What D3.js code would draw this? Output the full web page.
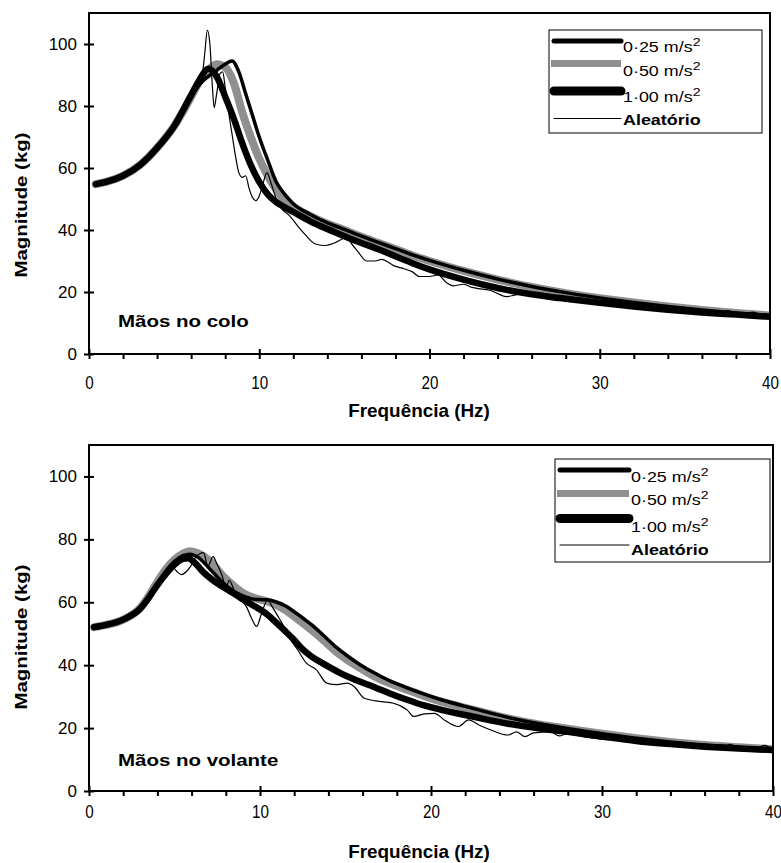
<!DOCTYPE html>
<html>
<head>
<meta charset="utf-8">
<script src="https://cdn.jsdelivr.net/npm/d3@7"></script>
<style>
body { margin: 0; background: #fff; }
svg { display: block; }
</style>
</head>
<body>
<script>
// values: [frequency Hz, magnitude kg]

// ---- Mãos no colo
var colo025 = [[0.4,54.8],[1,55.5],[2,57.5],[3,61],[4,66.5],[5,73.5],[6,83],
    [6.5,87],[7,89.5],[7.5,91.5],[8,93.5],[8.4,94.5],[8.8,91],[9.2,84],
    [9.6,77],[10,70],[10.5,62.5],[11,55.5],[11.5,51.5],[12,48.5],[13,45],
    [14,42.3],[15,40.2],[16,38],[17,36],[18,34],[19,32],[20,30.2],[22,27],
    [24,24.2],[26,21.8],[28,19.8],[30,18.1],[32,16.6],[34,15.3],[36,14.2],
    [38,13.2],[40,12.4]];
var colo050 = [[0.4,54.8],[1,55.5],[2,57.5],[3,61],[4,66.5],[5,73.5],[6,83],
    [6.5,88],[7,91.5],[7.5,93.5],[8,92.5],[8.5,87.5],[9,78],[9.5,70],[10,63],
    [10.5,57.5],[11,53],[11.5,49.5],[12,47.5],[13,44.5],[14,42],[15,40],
    [16,37.8],[17,35.8],[18,33.8],[19,31.8],[20,30],[22,26.8],[24,24],
    [26,21.6],[28,19.6],[30,18],[32,16.6],[34,15.3],[36,14.2],[38,13.2],
    [40,12.4]];
var colo100 = [[0.4,54.8],[1,55.5],[2,57.5],[3,61],[4,66.5],[5,73.5],
    [6,83.5],[6.5,88.5],[7,92],[7.5,89.5],[8,83],[8.5,76],[9,68],[9.5,61],
    [10,55.5],[10.5,51.5],[11,49],[11.5,47.3],[12,45.8],[13,42.8],[14,40.3],
    [15,38],[16,35.8],[17,33.8],[18,31.5],[19,29.3],[20,27.3],[22,24],
    [24,21.3],[26,19.3],[28,17.8],[30,16.5],[32,15.3],[34,14.3],[36,13.4],
    [38,12.7],[40,12]];
var coloRand = [[0.4,54.8],[1,55.5],[2,57.8],[3,61],[3.5,63.5],[4,66],
    [4.5,69.5],[5,73],[5.3,74.5],[5.5,77.5],[6,82],[6.3,85.5],[6.6,88],
    [6.8,97],[6.95,104.5],[7.1,100],[7.25,86],[7.35,79.5],[7.5,84],
    [7.7,90.5],[7.85,91],[8,86],[8.2,78],[8.4,71],[8.6,64],[8.8,58.5],
    [9,57],[9.2,57.5],[9.4,53.5],[9.6,50.5],[9.8,49.5],[10,51],[10.2,54.5],
    [10.45,58.5],[10.7,55],[11,50],[11.3,47],[11.8,44.5],[12.3,41],
    [12.7,38.5],[13.3,35.5],[13.9,35],[14.5,36],[15.1,37.5],[15.5,35],
    [15.8,33],[16.3,30],[16.8,30],[17.2,30.5],[17.6,29.5],[17.9,28.5],
    [18.5,27.5],[19,26.5],[19.4,25],[20,25],[20.5,25.5],[21,23],[21.4,22],
    [22,22.5],[22.5,21.5],[23,21],[23.6,20.5],[24,19.5],[24.5,18.5],[25,19],
    [25.5,19.5],[26,18.8],[27,18],[27.5,17.2],[28,17.5],[29,16.8],[30,16.6],
    [31,15.8],[32,15],[32.5,14.5],[33,15],[34,14.3],[35,13.8],[36,13.3],
    [37,13],[37.5,14],[38,13.2],[38.5,12.8],[39,13.5],[39.5,12.5],[40,12]];

// ---- Mãos no volante
var vol025 = [[0.3,52.1],[1,52.8],[2,54.5],[3,58],[4,66],[4.5,70],[5,73],
    [5.5,74.8],[5.9,75.3],[6.4,74.2],[7,71],[7.6,67.5],[8.2,64.5],[9,62],
    [9.6,61],[10.4,60.8],[11,60],[11.5,58.8],[12,57],[12.5,55],[13.1,52.5],
    [13.7,49.5],[14.4,46],[15.1,43],[15.9,40],[16.7,37.5],[17.6,35],
    [18.6,32.8],[19.6,30.8],[20.6,29],[22.5,26.2],[24.5,23.4],[26.5,21.2],
    [28,19.9],[30,18.2],[32,16.8],[34,15.6],[36,14.6],[38,13.9],[40,13.3]];
var vol050 = [[0.3,52.1],[1,52.8],[2,54.5],[3,58.2],[3.5,62],[4,66.5],
    [4.5,70.5],[5,73.5],[5.5,75.5],[5.9,76.2],[6.4,75.5],[7.1,73],[7.8,68.5],
    [8.4,65.5],[9,63],[9.6,61.5],[10.4,60.3],[11,59],[11.4,57.8],[12,55.5],
    [12.5,53.4],[13.1,50.8],[13.7,48],[14.4,44.5],[15.1,41.7],[15.9,39],
    [16.7,36.4],[17.6,34.2],[18.6,32.2],[19.6,30.2],[20.6,28.4],[22.5,25.8],
    [24.5,23.1],[26.5,21],[28,19.8],[30,18.2],[32,16.8],[34,15.6],[36,14.6],
    [38,13.9],[40,13.3]];
var vol100 = [[0.3,52.1],[1,52.8],[2,54.5],[3,58],[3.5,61.5],[4,65.5],
    [4.5,69],[5,72],[5.5,73.8],[5.8,74],[6.2,72.5],[6.7,69.5],[7.2,67.2],
    [7.8,65],[8.4,63],[9,61],[9.6,59],[10.2,57],[10.8,54.3],[11.4,51.2],
    [12,48],[12.5,45],[13,42.8],[13.7,40.5],[14.7,37.5],[15.5,35.5],
    [16.7,33],[17.6,31],[18.6,29],[19.6,27.2],[20.6,25.8],[22.5,23.6],
    [24.5,21.4],[26.5,19.8],[28,18.8],[30,17.3],[32,15.9],[34,14.9],
    [36,14.1],[38,13.5],[40,13]];
var volRand = [[0.3,52.1],[1,52.8],[2,54.5],[3,58],[3.5,61.5],[4,65.5],
    [4.5,69.5],[4.9,71],[5.2,69.5],[5.4,68.8],[5.7,69.8],[5.95,71.5],
    [6.2,74],[6.5,75.5],[6.7,75.8],[6.95,71.4],[7.25,74.5],[7.5,72],
    [7.8,68.2],[8,64.5],[8.2,67],[8.4,65],[8.6,62],[9.2,58.7],[9.5,55],
    [9.8,52.3],[10.1,56.6],[10.45,60.8],[10.7,58.7],[11,56],[11.4,52.3],
    [11.8,48],[12.2,44.9],[12.7,40.7],[13.3,38.5],[13.9,34.3],[14.5,33.8],
    [15.1,34.3],[15.5,33.2],[16.1,29.5],[17.1,28.4],[17.8,27.9],[18.6,25.8],
    [19,23.7],[19.6,24.5],[20.2,24.7],[20.8,22.5],[21.6,20.5],[22.2,22.6],
    [22.8,21],[23.5,19.4],[24.5,17.8],[25,18.8],[25.5,17.3],[26,18.5],
    [27,18.8],[27.5,17.5],[28,18.3],[29,17.2],[30,16.5],[31,16.2],[32,15.3],
    [32.5,14.8],[33,15.5],[34,15.3],[35,14.6],[36,14.1],[37,13.8],
    [37.5,14.8],[38,13.6],[39,13.3],[39.5,14.5],[40,13]];

var seriesNames = ["0·25 m/s", "0·50 m/s", "1·00 m/s", "Aleatório"];
var panelNames = ["Mãos no colo", "Mãos no volante"];
var xTicks = [0, 10, 20, 30, 40];
var xMinor = [2, 4, 6, 8, 12, 14, 16, 18, 22, 24, 26, 28, 32, 34, 36, 38];
var yTicks = [0, 20, 40, 60, 80, 100];
var xTitle = "Frequência (Hz)";
var yTitle = "Magnitude (kg)";

var FONT = "'Liberation Sans', Arial, sans-serif";

// stroke look of the 4 series, same order as seriesNames
var looks = [
    {color: "#000", width: 3.5, legend: 5},
    {color: "#8f8f8f", width: 8, legend: 7},
    {color: "#000", width: 6.5, legend: 9},
    {color: "#000", width: 1.2, legend: 1.2}
];

var svg = d3.select("body")
    .append("svg")
    .attr("width", 781)
    .attr("height", 863);

function label(parent, x, y, str, o)
{
    return parent.append("text")
        .attr("transform", "translate(" + x + "," + y + ")" +
            (o.rotate ? " rotate(-90)" : "") +
            " scale(" + (o.sx || 1) + ",1)")
        .attr("text-anchor", o.anchor || "start")
        .style("font-family", FONT)
        .style("font-size", o.size + "px")
        .style("font-weight", o.bold ? "bold" : "normal")
        .attr("fill", "#000")
        .text(str);
}

function drawPanel(p)
{
    var x = d3.scaleLinear().domain([0, 40]).range([p.left, p.right]);
    var y = d3.scaleLinear().domain([0, 110]).range([p.bottom, p.top]);
    var g = svg.append("g");

    var clipId = "clip" + p.id;
    g.append("clipPath").attr("id", clipId)
        .append("rect")
        .attr("x", p.left).attr("y", p.top)
        .attr("width", p.right - p.left)
        .attr("height", p.bottom - p.top);

    var line = d3.line()
        .x(function(d) { return x(d[0]); })
        .y(function(d) { return y(d[1]); })
        .curve(d3.curveMonotoneX);

    // grey first, then the 1·00 line, the 0·25 line and the thin one
    [1, 2, 0, 3].forEach(function(i) {
        g.append("path")
            .datum(p.series[i])
            .attr("clip-path", "url(#" + clipId + ")")
            .attr("fill", "none")
            .attr("stroke", looks[i].color)
            .attr("stroke-width", looks[i].width)
            .attr("stroke-linejoin", "round")
            .attr("stroke-linecap", "round")
            .attr("d", line);
    });

    // frame
    g.append("rect")
        .attr("x", p.left).attr("y", p.top)
        .attr("width", p.right - p.left)
        .attr("height", p.bottom - p.top)
        .attr("fill", "none")
        .attr("stroke", "#000")
        .attr("stroke-width", 2);

    // y axis
    var ya = g.append("g")
        .attr("transform", "translate(" + p.left + ",0)")
        .call(d3.axisLeft(y).tickValues(yTicks).tickSize(5).tickPadding(7));
    ya.select(".domain").remove();
    ya.selectAll(".tick line").attr("x1", 5).attr("stroke-width", 2);
    ya.selectAll(".tick text")
        .style("font-family", FONT).style("font-size", "17px")
        .attr("fill", "#000");

    // x axis, major ticks cross the line, minor ones hang below
    var xa = g.append("g")
        .attr("transform", "translate(0," + p.bottom + ")")
        .call(d3.axisBottom(x).tickValues(xTicks).tickSize(5)
            .tickPadding(p.xPad));
    xa.select(".domain").remove();
    xa.selectAll(".tick line").attr("y1", -5).attr("stroke-width", 2);
    xa.selectAll(".tick text")
        .attr("transform", "scale(0.8,1)")
        .style("font-family", FONT).style("font-size", "19px")
        .attr("fill", "#000");
    var xm = g.append("g")
        .attr("transform", "translate(0," + p.bottom + ")")
        .call(d3.axisBottom(x).tickValues(xMinor).tickSize(5)
            .tickFormat(""));
    xm.select(".domain").remove();
    xm.selectAll(".tick line").attr("stroke-width", 2);

    // titles
    label(g, 419, p.xTitleY, xTitle,
        {size: 18, bold: true, anchor: "middle", sx: 1.05});
    label(g, 27, p.yTitleY, yTitle,
        {size: 17, bold: true, anchor: "middle", rotate: true, sx: 1.2});
    label(g, p.left + 29, p.nameY, p.name, {size: 16, bold: true, sx: 1.28});

    // legend
    var L = p.legend;
    g.append("rect")
        .attr("x", L.x).attr("y", L.y)
        .attr("width", L.w).attr("height", L.h)
        .attr("fill", "#fff")
        .attr("stroke", "#000")
        .attr("stroke-width", 1);
    seriesNames.forEach(function(name, i) {
        g.append("line")
            .attr("x1", L.x + 5 + (i == 1 ? -3 : 0)).attr("x2", L.textX - 2)
            .attr("y1", L.lineY[i]).attr("y2", L.lineY[i])
            .attr("stroke", looks[i].color)
            .attr("stroke-width", looks[i].legend)
            .attr("stroke-linecap", i == 1 ? "butt" : "round");
        var t = label(g, L.textX, L.textY[i], name,
            {size: 14, bold: i == 3, sx: 1.28});
        if (i < 3) {
            t.append("tspan")
                .attr("dy", -6)
                .style("font-size", "11px")
                .text("2");
        }
    });
}

drawPanel({
    id: 1, name: panelNames[0],
    left: 89, right: 770, top: 13, bottom: 354,
    series: [colo025, colo050, colo100, coloRand],
    xPad: 17, xTitleY: 417, yTitleY: 205, nameY: 327,
    legend: {x: 549, y: 30, w: 213, h: 103, textX: 623,
        lineY: [41, 63.5, 91, 118.5], textY: [52, 75.5, 102, 125]}
});

drawPanel({
    id: 2, name: panelNames[1],
    left: 89, right: 773, top: 445, bottom: 791,
    series: [vol025, vol050, vol100, volRand],
    xPad: 9, xTitleY: 858, yTitleY: 637, nameY: 766,
    legend: {x: 555, y: 459, w: 215, h: 103, textX: 631,
        lineY: [470, 493.5, 518.5, 545], textY: [482, 505, 532, 555]}
});
</script>
</body>
</html>
